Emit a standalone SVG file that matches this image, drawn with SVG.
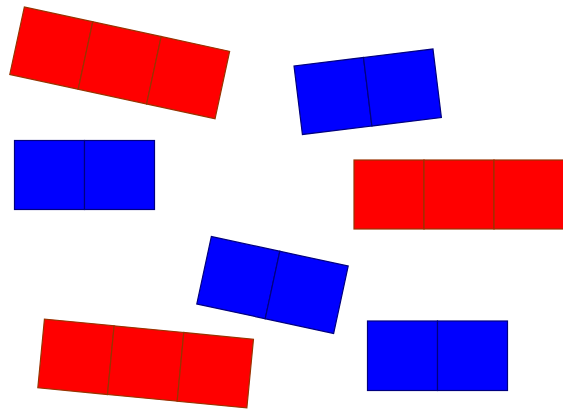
<svg xmlns="http://www.w3.org/2000/svg" width="563" height="409" viewBox="0 0 563 409">
<style>
.r{fill:#ff0000;stroke:#993300;stroke-width:1.2}
.b{fill:#0000ff;stroke:#000080;stroke-width:1.2}
</style>
<rect width="563" height="409" fill="#ffffff"/>
<g id="red1" transform="translate(119.7,62.9) rotate(12.2)">
<rect class="r" x="-105" y="-34.5" width="70" height="69"/>
<rect class="r" x="-35" y="-34.5" width="70" height="69"/>
<rect class="r" x="35" y="-34.5" width="70" height="69"/>
</g>
<g id="blue1" transform="translate(367.7,91.75) rotate(-7)">
<rect class="b" x="-70" y="-34.5" width="70" height="69"/>
<rect class="b" x="0" y="-34.5" width="70" height="69"/>
</g>
<g id="blue2" transform="translate(14.5,140.5)">
<rect class="b" x="0" y="0" width="70" height="69"/>
<rect class="b" x="70" y="0" width="70" height="69"/>
</g>
<g id="red2" transform="translate(354,160)">
<rect class="r" x="0" y="0" width="70" height="69"/>
<rect class="r" x="70" y="0" width="70" height="69"/>
<rect class="r" x="140" y="0" width="70" height="69"/>
</g>
<g id="blue3" transform="translate(272.5,285) rotate(12.2)">
<rect class="b" x="-70" y="-34.5" width="70" height="69"/>
<rect class="b" x="0" y="-34.5" width="70" height="69"/>
</g>
<g id="red3" transform="translate(145.65,363.5) rotate(5.5)">
<rect class="r" x="-105" y="-34.5" width="70" height="69"/>
<rect class="r" x="-35" y="-34.5" width="70" height="69"/>
<rect class="r" x="35" y="-34.5" width="70" height="69"/>
</g>
<g id="blue4" transform="translate(367.5,321)">
<rect class="b" x="0" y="0" width="70" height="69.5"/>
<rect class="b" x="70" y="0" width="70" height="69.5"/>
</g>
<g id="connectors"/>
</svg>
